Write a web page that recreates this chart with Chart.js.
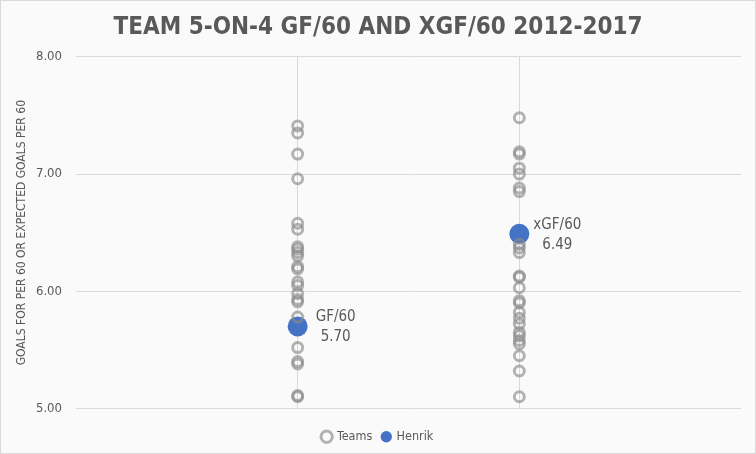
<!DOCTYPE html>
<html>
<head>
<meta charset="utf-8">
<script src="https://cdn.jsdelivr.net/npm/chart.js@4"></script>
<style>
html,body{margin:0;padding:0;background:#fff;}
#wrap{width:754px;height:452px;border:1px solid #d9d9d9;background:#fafafa;}
</style>
</head>
<body>
<div id="wrap"><canvas id="c" width="754" height="452"></canvas></div>
<script>
const categories = ["GF/60", "xGF/60"];
const teamsGF60 = [7.41, 7.35, 7.17, 6.96, 6.58, 6.53, 6.38, 6.36, 6.33, 6.30, 6.21, 6.19, 6.08, 6.05, 5.98, 5.93, 5.91, 5.78, 5.52, 5.40, 5.38, 5.11, 5.10];
const teamsXGF60 = [7.48, 7.19, 7.17, 7.05, 7.00, 6.88, 6.85, 6.40, 6.37, 6.33, 6.13, 6.12, 6.03, 5.92, 5.90, 5.82, 5.77, 5.72, 5.65, 5.62, 5.58, 5.55, 5.45, 5.32, 5.10];
const henrik = [5.70, 6.49];
const yTicks = [5, 6, 7, 8];

const teamPoints = [];
teamsGF60.forEach(v => teamPoints.push({x: 1, y: v}));
teamsXGF60.forEach(v => teamPoints.push({x: 2, y: v}));
const henrikPoints = henrik.map((v, i) => ({x: i + 1, y: v}));

const FONT = '"DejaVu Sans Condensed", "DejaVu Sans", sans-serif';

const labelPlugin = {
  id: 'henrikLabels',
  afterDatasetsDraw(chart) {
    const ctx = chart.ctx;
    const meta = chart.getDatasetMeta(1);
    ctx.save();
    ctx.fillStyle = '#595959';
    ctx.font = '15px ' + FONT;
    ctx.textAlign = 'center';
    ctx.textBaseline = 'middle';
    meta.data.forEach((el, i) => {
      const cx = el.x + 38;
      ctx.fillText(categories[i], cx, el.y - 9);
      ctx.fillText(henrik[i].toFixed(2), cx, el.y + 11);
    });
    ctx.restore();
  }
};

new Chart(document.getElementById('c'), {
  type: 'scatter',
  data: {
    datasets: [
      {
        label: 'Teams',
        data: teamPoints,
        pointRadius: 5,
        pointHoverRadius: 5,
        pointBorderWidth: 3,
        borderColor: 'rgba(140,140,140,0.65)',
        backgroundColor: 'rgba(0,0,0,0)',
        pointBorderColor: 'rgba(140,140,140,0.65)',
        pointBackgroundColor: 'rgba(0,0,0,0)'
      },
      {
        label: 'Henrik',
        data: henrikPoints,
        pointRadius: 10,
        pointHoverRadius: 10,
        borderWidth: 0,
        borderColor: '#4472C4',
        backgroundColor: '#4472C4',
        pointBackgroundColor: '#4472C4'
      }
    ]
  },
  options: {
    responsive: false,
    animation: false,
    layout: {padding: {left: 14, right: 14, top: 0, bottom: 0}},
    plugins: {
      title: {
        display: true,
        text: 'TEAM 5-ON-4 GF/60 AND XGF/60 2012-2017',
        color: '#595959',
        font: {family: FONT, size: 24, weight: 'bold'},
        padding: {top: 12, bottom: 15}
      },
      legend: {
        position: 'bottom',
        labels: {
          usePointStyle: true,
          pointStyle: 'circle',
          boxWidth: 8,
          boxHeight: 8,
          color: '#595959',
          font: {family: FONT, size: 12.5},
          padding: 10
        }
      },
      tooltip: {enabled: false}
    },
    scales: {
      x: {
        type: 'linear',
        min: 0,
        max: 3,
        ticks: {display: false, stepSize: 1},
        grid: {
          color: ctx => (ctx.tick && (ctx.tick.value === 1 || ctx.tick.value === 2)) ? '#d9d9d9' : 'rgba(0,0,0,0)',
          drawTicks: false
        },
        border: {display: false},
        afterFit: axis => { axis.height = 12; }
      },
      y: {
        min: 5,
        max: 8,
        afterBuildTicks: axis => { axis.ticks = yTicks.map(v => ({value: v})); },
        afterFit: axis => { axis.width = 61; },
        ticks: {
          color: '#595959',
          font: {family: FONT, size: 13},
          padding: 14,
          callback: v => Number(v).toFixed(2)
        },
        grid: {color: '#d9d9d9', drawTicks: false},
        border: {display: false},
        title: {
          display: true,
          text: 'GOALS FOR PER 60 OR EXPECTED GOALS PER 60',
          color: '#595959',
          font: {family: FONT, size: 12},
          padding: {top: 0, bottom: 6}
        }
      }
    }
  },
  plugins: [labelPlugin]
});
</script>
</body>
</html>
